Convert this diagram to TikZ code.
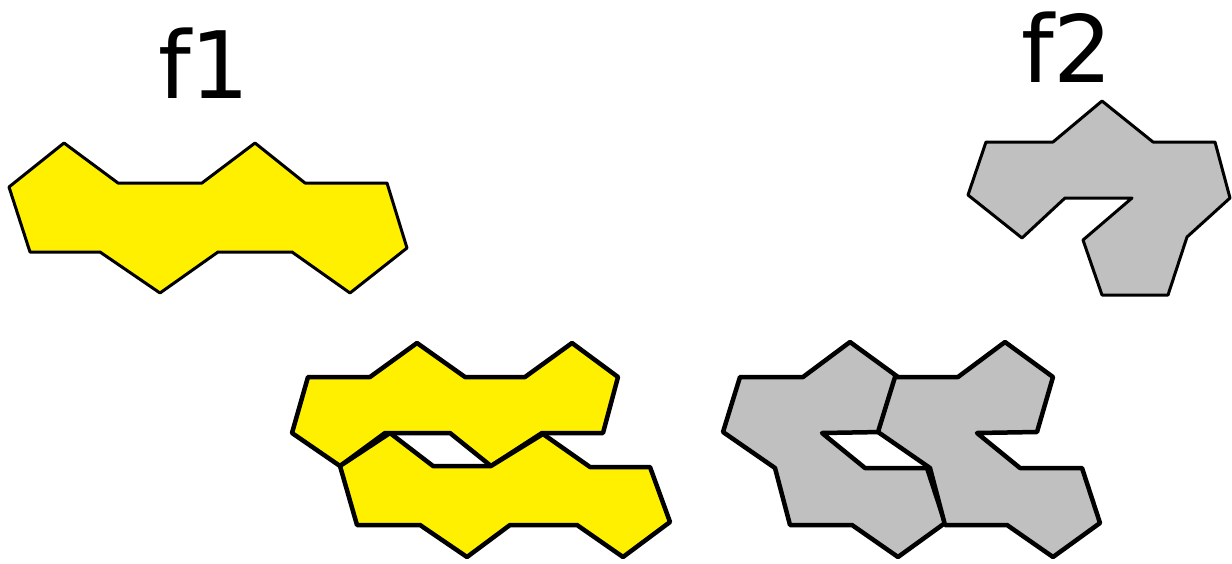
\documentclass[tikz,border=0pt]{standalone}
\usepackage{fontspec}
\setmainfont{DejaVu Sans}
\usepackage{tikz}
\definecolor{tileYellow}{RGB}{255,240,0}
\definecolor{tileGrey}{RGB}{192,192,192}
\tikzset{
    yTile/.style={draw=black, fill=tileYellow, line width=3pt, line join=round},
    gTile/.style={draw=black, fill=tileGrey, line width=3pt, line join=round},
    pairTile/.style={line width=4.5pt},
    tileLabel/.style={anchor=base, inner sep=0pt, font=\fontsize{93}{100}\selectfont}
}
\begin{document}
\begin{tikzpicture}[x=1pt, y=-1pt]
    \useasboundingbox (0,0) rectangle (1232,563);
    % Labels
    \node [tileLabel] (fone) at (204,98) {f1};
    \node [tileLabel] (ftwo) at (1067,82) {f2};

    % Single tiles
    \draw [yTile] (9,187) -- (64,143) -- (118,183) -- (202,183) -- (255,143) -- (305,183) -- (387,183)
        -- (407,248) -- (350,293) -- (292,252) -- (218,252) -- (160,293) -- (100,252) -- (30,252) -- cycle;
    \draw [gTile] (1102,101) -- (1153,142) -- (1215,142) -- (1230,198) -- (1187,237) -- (1168,295) -- (1102,295)
        -- (1083,240) -- (1132,198) -- (1065,198) -- (1022,238) -- (968,195) -- (986,142) -- (1053,142) -- cycle;

    % Yellow pair
    \draw [yTile, pairTile] (292,433) -- (308,377) -- (370,377) -- (417,343) -- (465,377) -- (525,377) -- (572,343)
        -- (618,377) -- (603,433) -- (542,433) -- (491,466) -- (450,433) -- (385,433) -- (340,466) -- cycle;
    \draw [yTile, pairTile] (340,466) -- (390,433) -- (433,466) -- (491,466) -- (543,434) -- (590,467) -- (650,467)
        -- (670,522) -- (623,557) -- (577,525) -- (510,525) -- (467,557) -- (420,525) -- (357,525) -- cycle;

    % Grey pair
    \foreach \dx in {0,155} {
        \draw [gTile, pairTile, xshift=\dx] (723,432) -- (740,377) -- (803,377) -- (850,342) -- (898,377) -- (882,432)
            -- (822,433) -- (865,468) -- (927,468) -- (945,523) -- (898,557) -- (852,525) -- (790,525) -- (775,468) -- cycle;
    }
\end{tikzpicture}
\end{document}
